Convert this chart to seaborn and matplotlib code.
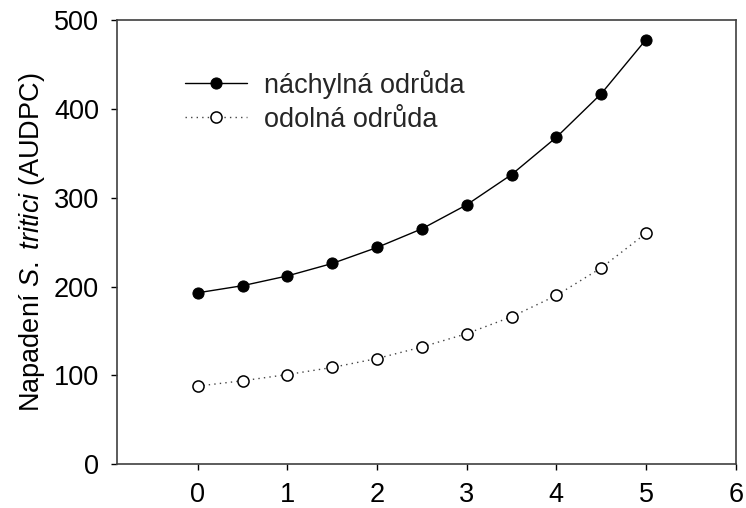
import matplotlib
matplotlib.use("Agg")
import matplotlib.pyplot as plt
import seaborn as sns
import pandas as pd

x_vals = [0, 0.5, 1, 1.5, 2, 2.5, 3, 3.5, 4, 4.5, 5]
susceptible = [193, 201, 212, 226, 244, 265, 292, 326, 368, 417, 478]
resistant = [88, 94, 101, 109, 119, 132, 147, 166, 190, 221, 260]
labels = ["náchylná odrůda", "odolná odrůda"]
x_ticks = [0, 1, 2, 3, 4, 5, 6]
y_ticks = [0, 100, 200, 300, 400, 500]

sns.set_theme(style="ticks")
plt.rcParams["font.family"] = ["Liberation Sans", "DejaVu Sans"]
plt.rcParams["mathtext.fontset"] = "custom"
plt.rcParams["mathtext.rm"] = "Liberation Sans"
plt.rcParams["mathtext.it"] = "Liberation Sans:italic"

FS = 19.5

fig = plt.figure(figsize=(7.46, 5.08), dpi=100)
ax = fig.add_axes([117 / 746, 1 - 464.3 / 508, (735.7 - 117) / 746, (464.3 - 20) / 508])

df1 = pd.DataFrame({"x": x_vals, "y": susceptible})
df2 = pd.DataFrame({"x": x_vals, "y": resistant})

sns.lineplot(data=df1, x="x", y="y", ax=ax, color="black", linewidth=1.0,
             marker="o", markersize=8, markerfacecolor="black",
             markeredgecolor="black", label=labels[0])
sns.lineplot(data=df2, x="x", y="y", ax=ax, color="#444444", linewidth=1.0,
             linestyle=(0, (1, 3)), marker="o", markersize=8,
             markerfacecolor="white", markeredgecolor="black",
             markeredgewidth=1.1, label=labels[1])

ax.set_xlim(-0.9, 6)
ax.set_ylim(0, 500)
ax.set_xticks(x_ticks)
ax.set_yticks(y_ticks)
ax.set_xlabel("")
ax.set_ylabel(r"Napadení $\it{S.\ tritici}$ (AUDPC)", fontsize=FS, labelpad=5, color="black")
ax.tick_params(axis="y", direction="out", length=4, width=1, pad=9,
               labelsize=FS, colors="black")
ax.tick_params(axis="x", direction="out", length=4, width=1, pad=9,
               labelsize=FS, colors="black")
for sp in ax.spines.values():
    sp.set_visible(True)
    sp.set_color("#404040")
    sp.set_linewidth(1.2)

leg = ax.legend(loc="upper left", bbox_to_anchor=(0.11, 0.888), frameon=False,
                fontsize=FS, handlelength=2.3, handletextpad=0.6, labelspacing=0.3,
                borderaxespad=0, borderpad=0)

fig.savefig("out.png", dpi=100)
